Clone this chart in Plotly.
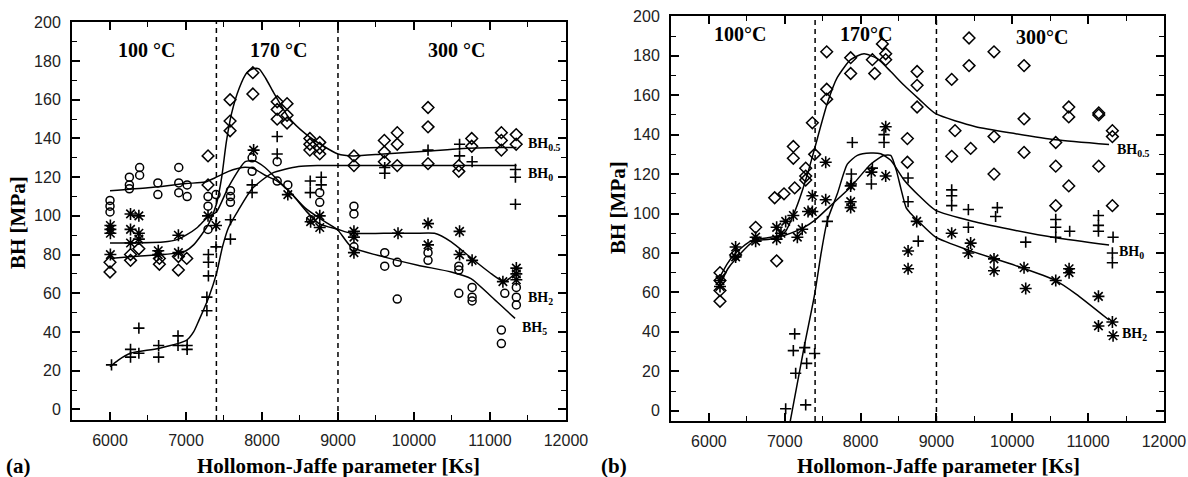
import plotly.graph_objects as go

# ---------------- panel (a) : measured points ----------------
a_dia_x = [6000, 6000, 6270, 6270, 6380, 6650, 6650, 6900, 6900, 7010, 7290, 7290, 7580, 7580, 7580,
           7880, 7880, 8200, 8200, 8200, 8330, 8330, 8330, 8630, 8630, 8630, 8760, 8760, 8760,
           9210, 9210, 9610, 9610, 9610, 9780, 9780, 9780, 10185, 10185, 10185, 10590, 10590,
           10760, 10760, 11150, 11150, 11150, 11345, 11345]
a_dia_y = [71, 76, 77, 80, 83, 75, 78, 72, 79, 78, 131, 116, 160, 149, 144,
           174, 163, 159, 155, 150, 158, 152, 148, 140, 137, 134, 138, 135, 132,
           131, 126, 139, 133, 128, 143, 137, 126, 156, 146, 127, 126, 123,
           140, 136, 143, 139, 134, 142, 137]

a_cir_x = [6000, 6000, 6000, 6255, 6255, 6255, 6390, 6390, 6630, 6630, 6905, 6905, 6905, 7015, 7015,
           7290, 7290, 7290, 7395, 7585, 7585, 7585, 7870, 7870, 8200, 8200, 8340, 8640, 8760, 8760,
           9210, 9210, 9210, 9615, 9615, 9780, 9780, 10185, 10185, 10590, 10590, 10590,
           10765, 10765, 10765, 11150, 11150, 11195, 11347, 11347, 11347]
a_cir_y = [108, 105, 102, 120, 116, 114, 125, 121, 117, 111, 125, 117, 112, 116, 110,
           110, 105, 93, 111, 113, 110, 107, 130, 123, 128, 118, 116, 98, 112, 107,
           105, 101, 84, 81, 74, 76, 57, 81, 77, 74, 72, 60,
           63, 58, 56, 41, 34, 60, 63, 58, 54]

a_ast_x = [6005, 6005, 6005, 6005, 6270, 6270, 6270, 6380, 6380, 6380, 6635, 6635, 6900, 6900,
           7290, 7395, 7890, 8340, 8640, 8760, 8760, 9210, 9210, 9210, 9790, 10185, 10185,
           10600, 10600, 10765, 11170, 11347, 11347, 11347]
a_ast_y = [95, 93, 91, 80, 101, 93, 86, 100, 91, 88, 82, 80, 90, 81,
           100, 95, 134, 111, 97, 100, 94, 92, 89, 81, 91, 96, 85,
           92, 80, 77, 66, 73, 70, 67]

a_plus_x = [6020, 6270, 6270, 6380, 6380, 6640, 6640, 6895, 6895, 7015, 7015, 7275, 7275,
            7295, 7295, 7295, 7395, 7585, 7585, 7870, 7870, 8200, 8200, 8635, 8635, 8780, 8780,
            9615, 9615, 10185, 10600, 10600, 10765, 11335, 11335, 11335]
a_plus_y = [23, 31, 27, 42, 29, 33, 27, 38, 33, 33, 31, 51, 58,
            69, 76, 80, 84, 88, 98, 112, 116, 141, 132, 118, 112, 120, 116,
            122, 125, 134, 137, 131, 128, 124, 120, 106]

# ---------------- panel (a) : fitted curves ----------------
a_fit05_x = [6000, 6300, 6700, 6900, 7000, 7100, 7200, 7300, 7400, 7470, 7530, 7600, 7700, 7800,
             7880, 7960, 8050, 8150, 8350, 8570, 8790, 9000, 9200, 9600, 10200, 10600, 11150, 11350]
a_fit05_y = [78, 79, 80, 81, 82, 85, 90, 96, 106, 120, 138, 153, 166, 174,
             176, 176, 171, 164, 151, 142.5, 136.5, 132, 131, 132, 133.5, 134.7, 135.3, 135.3]

a_fit2_x = [6000, 6700, 6900, 7000, 7150, 7290, 7400, 7560, 7780, 7890, 8040, 8220, 8400, 8570,
            8750, 9000, 9175, 9600, 10000, 10270, 10490, 10760, 11020, 11190, 11350]
a_fit2_y = [86, 86.5, 88, 90, 94, 99.5, 102, 115, 128, 128.5, 125, 118, 111, 103,
            96, 93, 91, 91, 91, 91, 86.6, 78, 70, 66, 71]

a_fit5_x = [6000, 6500, 7000, 7250, 7400, 7560, 7740, 7890, 8040, 8200, 8350, 8570, 8750, 8870,
            9000, 9175, 9600, 10050, 10490, 10750, 11020, 11330]
a_fit5_y = [113, 114.5, 116.7, 117.5, 120, 123, 125, 124.4, 121, 118, 113, 104, 99, 96,
            92.6, 84, 78.8, 74.5, 71, 67.6, 58.2, 47]

a_fit0_x = [6000, 6110, 6270, 6640, 7010, 7100, 7170, 7300, 7400, 7480, 7560, 7690, 7870, 8130,
            8480, 8740, 9500, 10500, 11350]
a_fit0_y = [22, 25.5, 29, 31.5, 35.8, 40, 46, 58, 70, 84, 94, 103, 114, 122,
            125.5, 126, 126, 126, 126]

# ---------------- panel (b) : measured points ----------------
b_dia_x = [6146, 6146, 6146, 6146, 6352, 6616, 6867, 6893, 6990, 7113, 7113, 7131, 7276, 7276, 7276,
           7364, 7394, 7553, 7553, 7553, 7869, 7869, 8155, 8186, 8287, 8331, 8331, 8617, 8617,
           8745, 8745, 8745, 9201, 9201, 9245, 9430, 9430, 9451, 9759, 9759, 9759,
           10155, 10155, 10155, 10573, 10573, 10573, 10745, 10745, 10745, 11140, 11140, 11140,
           11320, 11320, 11320]
b_dia_y = [70, 66, 61, 55.5, 79, 93, 108, 76, 110, 134, 128, 113, 123, 119, 117,
           146, 130, 182, 163, 158, 179, 171, 178, 171, 186, 181, 178, 138, 126,
           172, 165, 154, 168, 129, 142, 189, 175, 133, 182, 139, 120,
           175, 148, 131, 136, 124, 104, 154, 149, 114, 151, 150, 124,
           142, 139, 104]

b_plus_x = [7012, 7113, 7131, 7144, 7263, 7276, 7289, 7394, 7562, 7878, 7878, 7891, 8142, 8155,
            8309, 8309, 8626, 8626, 8760, 9201, 9201, 9201, 9421, 9421, 9780, 9803, 10177,
            10573, 10573, 10573, 10757, 11136, 11136, 11136, 11320, 11320, 11329]
b_plus_y = [1, 30.5, 39, 19, 32, 3, 24, 29, 96, 120, 115, 136, 115, 123,
            140, 136, 118, 106, 86, 112, 109, 104, 102, 93, 98.5, 103, 85.5,
            97, 93, 88, 91, 99, 94, 91, 80, 75, 88]

b_ast_x = [6146, 6146, 6352, 6352, 6616, 6616, 6893, 6893, 6950, 7012, 7113, 7166, 7230, 7307,
           7364, 7364, 7540, 7540, 7869, 7869, 7869, 8142, 8331, 8331, 8626, 8626, 8740,
           9201, 9421, 9451, 9759, 9759, 10155, 10177, 10573, 10749, 10749, 11136, 11136,
           11320, 11329]
b_ast_y = [66, 63, 83, 78, 88, 86, 93, 87, 90, 96, 99, 88, 92, 101,
           101, 109, 126, 107, 114, 106, 103, 121, 144, 119, 81, 72, 96,
           90, 80, 85, 77, 71, 72.5, 62, 66, 72, 70, 58, 43,
           45, 38]

# ---------------- panel (b) : fitted curves ----------------
b_fit05_x = [6146, 6250, 6352, 6550, 6814, 6946, 7012, 7100, 7200, 7300, 7394, 7562, 7693, 7869,
             8045, 8221, 8397, 8573, 8771, 8990, 9517, 10045, 10573, 11276]
b_fit05_y = [68, 75, 80, 86, 88, 89, 91, 98, 108, 120, 133, 156, 169, 178,
             181, 178.5, 172, 165, 158, 150.6, 144, 140.5, 137.4, 135]

b_fit2_x = [6146, 6250, 6352, 6594, 6800, 7000, 7254, 7394, 7605, 7869, 8133, 8309, 8397, 8470,
            8529, 8600, 8661, 8771, 8990, 9430, 10045, 10573, 10837, 11276]
b_fit2_y = [64, 72, 77, 86, 87, 89, 93, 96.5, 104, 113.4, 125, 129.5, 129.5, 122,
            113, 103, 100, 95.7, 88, 81.3, 73.6, 66, 59.3, 46]

b_fit0_x = [7069, 7254, 7394, 7480, 7562, 7693, 7825, 7957, 8133, 8265, 8397, 8573, 8771, 8990,
            9517, 10045, 10573, 11276]
b_fit0_y = [-6, 32, 59, 80, 96.5, 110, 125, 129.5, 130.7, 130.3, 127, 117, 109, 101.6,
            95.7, 91.4, 87.7, 84]

# ---------------- annotations data ----------------
region_bounds = [7400, 9000]
a_temp_x = [6474, 8220, 10553]
a_temp_y = [185.5, 185.5, 185.5]
a_temp_txt = ["100 °C", "170 °C", "300 °C"]
b_temp_x = [6404, 8068, 10388]
b_temp_y = [191, 191, 189.5]
b_temp_txt = ["100°C", "170°C", "300°C"]

a_lab_x = [11478, 11478, 11478, 11390]
a_lab_y = [137, 121.5, 57.3, 41.8]
a_lab_txt = ["BH<sub>0.5</sub>", "BH<sub>0</sub>", "BH<sub>2</sub>", "BH<sub>5</sub>"]
b_lab_x = [11351, 11386, 11417]
b_lab_y = [132, 80, 38.6]
b_lab_txt = ["BH<sub>0.5</sub>", "BH<sub>0</sub>", "BH<sub>2</sub>"]

SERIF = "Liberation Serif, Times New Roman, serif"
SANS = "Liberation Sans, Arial, sans-serif"

fig = go.Figure()

def add_points(x, y, sym, size, lw, xa, ya):
    fig.add_trace(go.Scatter(x=x, y=y, mode="markers", xaxis=xa, yaxis=ya,
                             marker=dict(symbol=sym, size=size, color="black",
                                         line=dict(width=lw, color="black")),
                             cliponaxis=False, hoverinfo="x+y"))

def add_curve(x, y, xa, ya):
    fig.add_trace(go.Scatter(x=x, y=y, mode="lines", xaxis=xa, yaxis=ya,
                             line=dict(color="black", width=1.5, shape="spline", smoothing=0.6),
                             hoverinfo="skip"))

# panel (a)
add_curve(a_fit05_x, a_fit05_y, "x", "y")
add_curve(a_fit2_x, a_fit2_y, "x", "y")
add_curve(a_fit5_x, a_fit5_y, "x", "y")
add_curve(a_fit0_x, a_fit0_y, "x", "y")
add_points(a_dia_x, a_dia_y, "diamond-open", 9, 1.5, "x", "y")
add_points(a_cir_x, a_cir_y, "circle-open", 8, 1.5, "x", "y")
add_points(a_plus_x, a_plus_y, "cross-thin-open", 8, 1.6, "x", "y")
add_points(a_ast_x, a_ast_y, "asterisk-open", 10, 1.6, "x", "y")

# panel (b)
add_curve(b_fit05_x, b_fit05_y, "x2", "y2")
add_curve(b_fit2_x, b_fit2_y, "x2", "y2")
add_curve(b_fit0_x, b_fit0_y, "x2", "y2")
add_points(b_dia_x, b_dia_y, "diamond-open", 9, 1.5, "x2", "y2")
add_points(b_plus_x, b_plus_y, "cross-thin-open", 8, 1.6, "x2", "y2")
add_points(b_ast_x, b_ast_y, "asterisk-open", 10, 1.6, "x2", "y2")

# region boundaries
for xr, yr in (("x", "y"), ("x2", "y2")):
    for b in region_bounds:
        fig.add_shape(type="line", xref=xr, yref=yr + " domain", x0=b, x1=b, y0=0, y1=1,
                      line=dict(color="black", width=1.5, dash="5px,4px"))

ann = []
for xs, ys, ts, xr, yr in ((a_temp_x, a_temp_y, a_temp_txt, "x", "y"),
                           (b_temp_x, b_temp_y, b_temp_txt, "x2", "y2")):
    for xv, yv, t in zip(xs, ys, ts):
        ann.append(dict(x=xv, y=yv, xref=xr, yref=yr, text=t, showarrow=False,
                        font=dict(family=SERIF, size=20, color="black", weight="bold")))
for xs, ys, ts, xr, yr in ((a_lab_x, a_lab_y, a_lab_txt, "x", "y"),
                           (b_lab_x, b_lab_y, b_lab_txt, "x2", "y2")):
    for xv, yv, t in zip(xs, ys, ts):
        ann.append(dict(x=xv, y=yv, xref=xr, yref=yr, text=t, showarrow=False,
                        xanchor="left", yanchor="middle",
                        font=dict(family=SERIF, size=14, color="black", weight="bold")))

W, H = 1188, 477
titles = [
    dict(x=18 / W, y=1 - 223 / H, text="BH [MPa]", textangle=-90),
    dict(x=618 / W, y=1 - 208 / H, text="BH [MPa]", textangle=-90),
    dict(x=338 / W, y=1 - 466 / H, text="Hollomon-Jaffe parameter [Ks]"),
    dict(x=938 / W, y=1 - 466 / H, text="Hollomon-Jaffe parameter [Ks]"),
    dict(x=18 / W, y=1 - 466 / H, text="(a)"),
    dict(x=614 / W, y=1 - 466 / H, text="(b)"),
]
for t in titles:
    t.update(xref="paper", yref="paper", showarrow=False, xanchor="center", yanchor="middle",
             font=dict(family=SERIF, size=21, color="black", weight="bold"))
    ann.append(t)

def xaxis(domain, anchor):
    return dict(domain=domain, anchor=anchor, range=[5500, 12000.5], tickmode="linear",
                tick0=6000, dtick=1000, tickformat="d", showline=True, linecolor="black",
                linewidth=2, mirror="ticks", ticks="inside", ticklen=8, tickwidth=1.6,
                tickcolor="black", showgrid=False, zeroline=False, ticklabelstandoff=5,
                automargin=False,
                tickfont=dict(family=SANS, size=16, color="#222"),
                minor=dict(ticks="inside", ticklen=5, tickwidth=1.4, tickcolor="black",
                           tick0=5500, dtick=500, showgrid=False))

def yaxis(domain, anchor, rng):
    return dict(domain=domain, anchor=anchor, range=rng, tickmode="linear",
                tick0=0, dtick=20, tickformat="d", showline=True, linecolor="black",
                linewidth=2, mirror="ticks", ticks="inside", ticklen=8, tickwidth=1.6,
                tickcolor="black", showgrid=False, zeroline=False, ticklabelstandoff=6,
                automargin=False,
                tickfont=dict(family=SANS, size=16, color="#222"),
                minor=dict(ticks="inside", ticklen=5, tickwidth=1.4, tickcolor="black",
                           tick0=0, dtick=10, showgrid=False))

fig.update_layout(
    template="none",
    width=W, height=H, margin=dict(l=0, r=0, t=0, b=0, autoexpand=False),
    paper_bgcolor="white", plot_bgcolor="white", showlegend=False,
    xaxis=xaxis([72 / W, 566 / W], "y"),
    yaxis=yaxis([1 - 420 / H, 1 - 22 / H], "x", [-5.5, 200.2]),
    xaxis2=xaxis([671 / W, 1164 / W], "y2"),
    yaxis2=yaxis([1 - 421 / H, 1 - 15.7 / H], "x2", [-5.2, 200.3]),
    annotations=ann,
)

fig.write_html("out.html", config={"displayModeBar": False},
               post_script="document.body.style.margin='0';")
